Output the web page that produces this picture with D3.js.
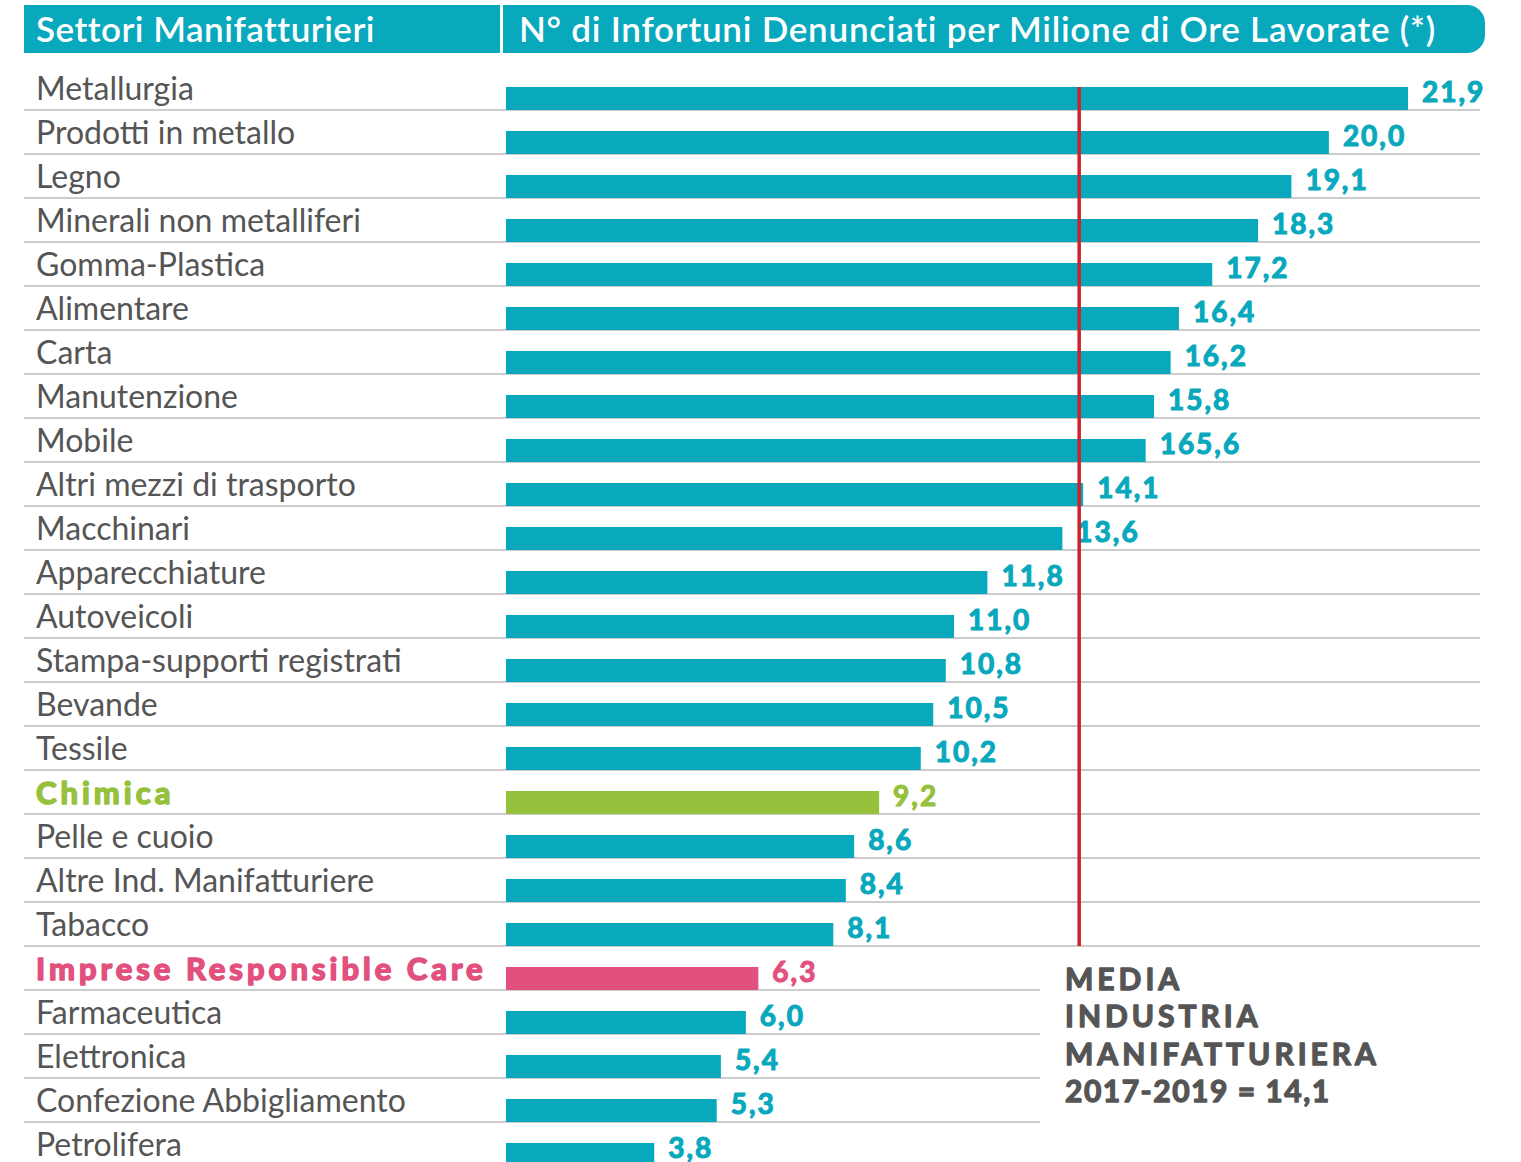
<!DOCTYPE html>
<html>
<head>
<meta charset="utf-8">
<script src="https://cdn.jsdelivr.net/npm/d3@7"></script>
<style>
  body { margin: 0; background: #fff; }
  svg { display: block; }
  text { font-family: Lato, "Open Sans", sans-serif; }
</style>
</head>
<body>
<svg id="chart" width="1521" height="1162"></svg>
<script>
// data
const sectors = [
  "Metallurgia", "Prodotti in metallo", "Legno", "Minerali non metalliferi",
  "Gomma-Plastica", "Alimentare", "Carta", "Manutenzione", "Mobile",
  "Altri mezzi di trasporto", "Macchinari", "Apparecchiature", "Autoveicoli",
  "Stampa-supporti registrati", "Bevande", "Tessile", "Chimica",
  "Pelle e cuoio", "Altre Ind. Manifatturiere", "Tabacco",
  "Imprese Responsible Care", "Farmaceutica", "Elettronica",
  "Confezione Abbigliamento", "Petrolifera"
];
const values = [
  21.9, 20.0, 19.1, 18.3, 17.2, 16.4, 16.2, 15.8, 15.6, 14.1, 13.6, 11.8,
  11.0, 10.8, 10.5, 10.2, 9.2, 8.6, 8.4, 8.1, 6.3, 6.0, 5.4, 5.3, 3.8
];
// printed labels (the reference prints "165,6" for Mobile)
const valueLabels = [
  "21,9", "20,0", "19,1", "18,3", "17,2", "16,4", "16,2", "15,8", "165,6",
  "14,1", "13,6", "11,8", "11,0", "10,8", "10,5", "10,2", "9,2", "8,6",
  "8,4", "8,1", "6,3", "6,0", "5,4", "5,3", "3,8"
];
const average = 14.1;
const headers = ["Settori Manifatturieri", "N° di Infortuni Denunciati per Milione di Ore Lavorate (*)"];
const noteLines = ["MEDIA", "INDUSTRIA", "MANIFATTURIERA", "2017-2019 = 14,1"];

const teal = "#08a8bd", green = "#95c13d", pink = "#e2507e", grey = "#555";
const colorOf = name =>
  name === "Chimica" ? green : name === "Imprese Responsible Care" ? pink : teal;
const isHighlight = name => colorOf(name) !== teal;

const svg = d3.select("#chart");
const rowH = 44, rowsTop = 66;
const y = d3.scaleBand().domain(sectors).range([rowsTop, rowsTop + rowH * sectors.length]);
const x = d3.scaleLinear().domain([0, 21.9]).range([496, 1408]);
const barX = 506, barH = 23;
const lastLong = sectors.indexOf("Tabacco");

// header band, rounded on the right only
const hdr = svg.append("g");
hdr.append("path")
  .attr("d", () => {
    const p = d3.path(), x0 = 24, x1 = 1485, y0 = 5, y1 = 53, r = 18;
    p.moveTo(x0, y0); p.lineTo(x1 - r, y0);
    p.arcTo(x1, y0, x1, y0 + r, r); p.lineTo(x1, y1 - r);
    p.arcTo(x1, y1, x1 - r, y1, r); p.lineTo(x0, y1); p.closePath();
    return p.toString();
  })
  .attr("fill", teal);
hdr.append("rect").attr("x", 500).attr("y", 5).attr("width", 3).attr("height", 48).attr("fill", "#fff");
hdr.selectAll("text")
  .data(headers)
  .join("text")
    .attr("x", (d, i) => i ? 519 : 36)
    .attr("y", 42)
    .attr("fill", "#fff")
    .attr("font-size", 35)
    .attr("font-weight", 600)
    .attr("letter-spacing", (d, i) => i ? 0.75 : 0.5)
    .text(d => d);

// row separators
svg.append("g").selectAll("line")
  .data(sectors)
  .join("line")
    .attr("x1", 24)
    .attr("x2", (d, i) => i <= lastLong ? 1480 : 1040)
    .attr("y1", d => y(d) + rowH)
    .attr("y2", d => y(d) + rowH)
    .attr("stroke", "#bcbcbc")
    .attr("stroke-width", 1.5);

// category labels
svg.append("g").selectAll("text")
  .data(sectors)
  .join("text")
    .attr("x", 36)
    .attr("y", d => y(d) + 34)
    .attr("font-size", d => isHighlight(d) ? 31 : 32)
    .attr("font-weight", d => isHighlight(d) ? 700 : 400)
    .attr("letter-spacing", d => isHighlight(d) ? 4 : 0)
    .attr("fill", d => isHighlight(d) ? colorOf(d) : grey)
    .attr("stroke", d => isHighlight(d) ? colorOf(d) : "none")
    .attr("stroke-width", 1.6)
    .attr("stroke-linejoin", "round")
    .text(d => d);

// bars
svg.append("g").selectAll("rect")
  .data(values)
  .join("rect")
    .attr("x", barX)
    .attr("y", (d, i) => y(sectors[i]) + rowH - barH)
    .attr("width", d => x(d) - barX)
    .attr("height", barH)
    .attr("fill", (d, i) => colorOf(sectors[i]));

// value labels
svg.append("g").selectAll("text")
  .data(values)
  .join("text")
    .attr("x", d => x(d) + 14)
    .attr("y", (d, i) => y(sectors[i]) + rowH - 8)
    .attr("font-size", 28)
    .attr("font-weight", 700)
    .attr("letter-spacing", 2)
    .attr("fill", (d, i) => colorOf(sectors[i]))
    .attr("stroke", (d, i) => colorOf(sectors[i]))
    .attr("stroke-width", 1.1)
    .attr("stroke-linejoin", "round")
    .text((d, i) => valueLabels[i]);

// average line
svg.append("line")
  .attr("x1", x(average) - 4).attr("x2", x(average) - 4)
  .attr("y1", y(sectors[0]) + rowH - barH)
  .attr("y2", y(sectors[lastLong]) + rowH)
  .attr("stroke", "#d0202a")
  .attr("stroke-width", 3.5);

// average note
svg.append("g").selectAll("text")
  .data(noteLines)
  .join("text")
    .attr("x", 1065)
    .attr("y", (d, i) => 990 + i * 37.3)
    .attr("font-size", 30)
    .attr("font-weight", 700)
    .attr("letter-spacing", (d, i) => i === 3 ? 1.5 : 4)
    .attr("fill", grey)
    .attr("stroke", grey)
    .attr("stroke-width", 1.3)
    .attr("stroke-linejoin", "round")
    .text(d => d);
</script>
</body>
</html>
